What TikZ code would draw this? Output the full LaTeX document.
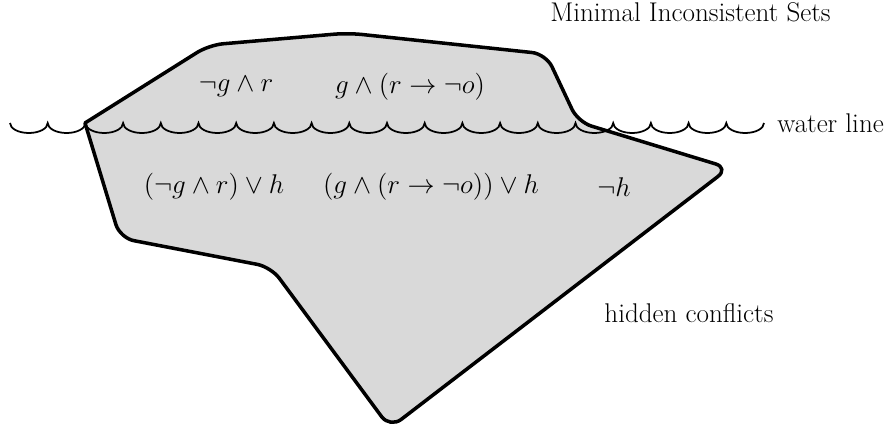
\RequirePackage{fix-cm}
\documentclass[tikz,border=0pt]{standalone}
\usepackage{amsmath,amssymb}
\usetikzlibrary{positioning,calc}
\tikzset{berg/.style={draw=black,fill=black!15,line width=2pt,line join=round}  }
\tikzset{waves/.style={draw=black,line width=1pt}  }
\tikzset{lbl/.style={inner sep=0pt,font=\fontsize{15.4}{18}\selectfont}  }

\begin{document}
\begin{tikzpicture}
	\useasboundingbox (0,0) rectangle (17.86,8.56);
		\coordinate (a) at (1.70,6.10);
		\coordinate (b) at (4.18,7.66);
		\coordinate (c) at (6.96,7.90);
		\coordinate (d) at (10.92,7.48);
		\coordinate (e) at (11.56,6.12);
		\coordinate (f) at (14.58,5.20);
		\coordinate (g) at (7.80,0.00);
		\coordinate (h) at (5.42,3.22);
		\coordinate (i) at (2.40,3.80);

		\draw[berg] (a) [rounded corners=8pt] -- (b) -- (c) -- (d) -- (e) -- (f) -- (g) -- (h) -- (i) [sharp corners] -- cycle;

		% water line
		\coordinate (w0) at (0.20,6.10);
		\draw[waves] (w0) \foreach \k in {1,...,20}{ arc (180:360:0.377 and 0.2) } coordinate (w1);
		\node[lbl,anchor=west] (wl) at ($(w1)+(0.26,0)$) {water line};

		\node[lbl] (t1) at (4.72,6.82) {$\neg g\wedge r$};
		\node[lbl] (t2) at (8.20,6.82) {$g\wedge(r\rightarrow\neg o)$};
		\node[lbl] (u1) at (4.28,4.82) {$(\neg g\wedge r)\vee h$};
		\node[lbl] (u2) at (8.62,4.82) {$(g\wedge(r\rightarrow\neg o))\vee h$};
		\node[lbl] (u3) at (12.28,4.82) {$\neg h$};
		\node[lbl] (mis) at (13.81,8.32) {Minimal Inconsistent Sets};
		\node[lbl] (hc) at (13.78,2.30) {hidden conflicts};
	\end{tikzpicture}
\end{document}
